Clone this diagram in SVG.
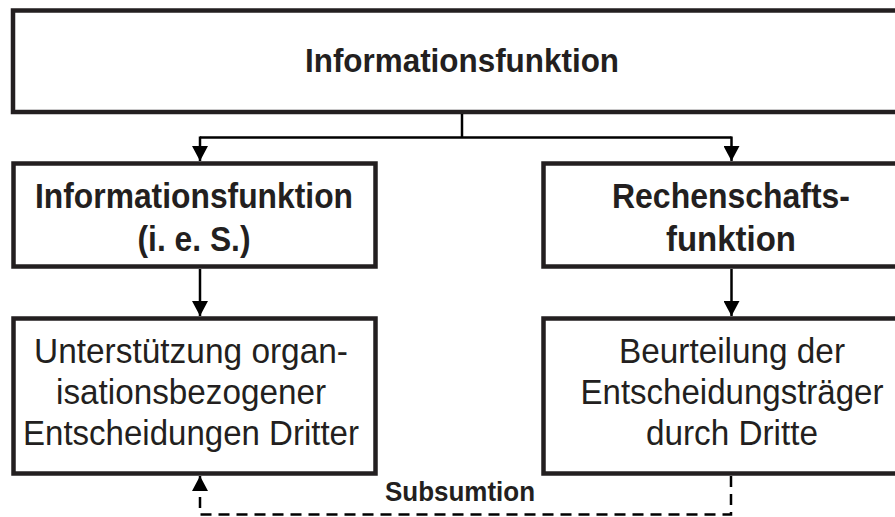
<svg xmlns="http://www.w3.org/2000/svg" width="895" height="517" viewBox="0 0 895 517">
<defs>
<style>
.box{fill:#fff;stroke:#231f20;stroke-width:4.5}
.t{font-family:"Liberation Sans",Arial,sans-serif;fill:#231f20;text-anchor:middle}
.b{font-weight:bold}
.c{fill:none;stroke:#000;stroke-width:2.5}
.d{fill:none;stroke:#000;stroke-width:2.5;stroke-dasharray:11 7}
</style>
<marker id="ah" viewBox="0 0 15 16" refX="15" refY="8" markerWidth="15" markerHeight="16" markerUnits="userSpaceOnUse" orient="auto">
<path d="M0,0 L15,8 L0,16 Z" fill="#000"/>
</marker>
</defs>
<rect width="895" height="517" fill="#fff"/>
<g id="top">
<rect class="box" x="13" y="10.5" width="900" height="101.5"/>
<text class="t b" x="462" y="72" font-size="34" textLength="314" lengthAdjust="spacingAndGlyphs">Informationsfunktion</text>
</g>
<g id="info-ies">
<rect class="box" x="13.5" y="163.5" width="362" height="103"/>
<text class="t b" x="194" y="208" font-size="35" textLength="318" lengthAdjust="spacingAndGlyphs">Informationsfunktion</text>
<text class="t b" x="194" y="251" font-size="35" textLength="113" lengthAdjust="spacingAndGlyphs">(i. e. S.)</text>
</g>
<g id="rechenschaft">
<rect class="box" x="543.5" y="163.5" width="380" height="103"/>
<text class="t b" x="731" y="208" font-size="35" textLength="238" lengthAdjust="spacingAndGlyphs">Rechenschafts-</text>
<text class="t b" x="731" y="251" font-size="35" textLength="130" lengthAdjust="spacingAndGlyphs">funktion</text>
</g>
<g id="unterstuetzung">
<rect class="box" x="13.5" y="318.5" width="362" height="155"/>
<text class="t" x="191" y="363" font-size="35" textLength="314" lengthAdjust="spacingAndGlyphs">Unterstützung organ-</text>
<text class="t" x="191" y="404" font-size="35" textLength="270" lengthAdjust="spacingAndGlyphs">isationsbezogener</text>
<text class="t" x="191" y="445" font-size="35" textLength="336" lengthAdjust="spacingAndGlyphs">Entscheidungen Dritter</text>
</g>
<g id="beurteilung">
<rect class="box" x="543.5" y="318.5" width="380" height="155"/>
<text class="t" x="732" y="363" font-size="35" textLength="226" lengthAdjust="spacingAndGlyphs">Beurteilung der</text>
<text class="t" x="732" y="404" font-size="35" textLength="303" lengthAdjust="spacingAndGlyphs">Entscheidungsträger</text>
<text class="t" x="732" y="445" font-size="35" textLength="172" lengthAdjust="spacingAndGlyphs">durch Dritte</text>
</g>
<g id="connectors">
<path class="c" d="M462,114 V137.5"/>
<path class="c" d="M200,137.5 H731.5"/>
<path class="c" d="M200,136.5 V161" marker-end="url(#ah)"/>
<path class="c" d="M731.5,136.5 V161" marker-end="url(#ah)"/>
<path class="c" d="M200,269 V316" marker-end="url(#ah)"/>
<path class="c" d="M731.5,269 V316" marker-end="url(#ah)"/>
<path class="d" d="M731,476 V514.5 H200 V488"/>
<path class="c" d="M200,490 V476" marker-end="url(#ah)"/>
<text class="t b" x="460" y="501" font-size="28" textLength="150" lengthAdjust="spacingAndGlyphs">Subsumtion</text>
</g>
</svg>
